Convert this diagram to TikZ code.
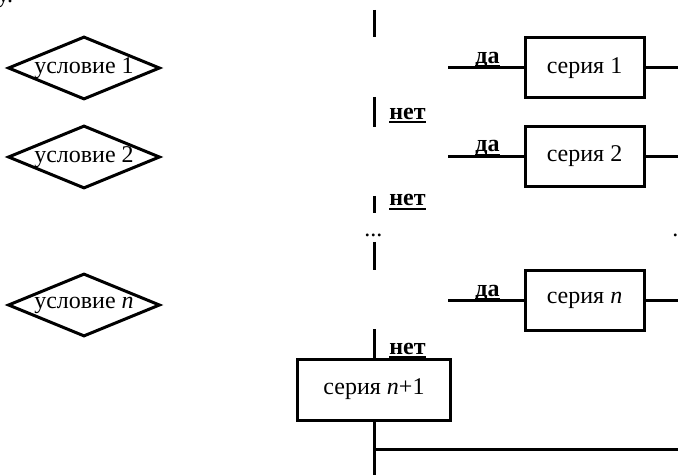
\documentclass[tikz,border=0pt]{standalone}
\usepackage{fontspec}
\setmainfont{Liberation Serif}
\usetikzlibrary{shapes.geometric}
\newcommand\podch[1]{\setbox0\hbox{\bfseries #1}\rlap{\rule[-1.8pt]{\wd0}{1pt}}\box0}
\tikzset{
  usl/.style={draw, shape=diamond, line width=1.5pt, inner sep=0pt, minimum width=76pt, minimum height=31.5pt},
  ser/.style={draw, rectangle, line width=1.5pt, minimum width=59.5pt, minimum height=30pt},
  lin/.style={line width=1.5pt},
  mtk/.style={anchor=base west, inner sep=0pt}
}
\begin{document}
\begin{tikzpicture}[x=0.5pt, y=-0.5pt, font=\fontsize{12}{14}\selectfont]
  \useasboundingbox (0,0) rectangle (678,475);
  \node[mtk] (hvost) at (-3,3) {у.};
  % условия
  \node[usl, label=center:{условие 1}] (u1) at (84,68) {};
  \node[usl, label=center:{условие 2}] (u2) at (84,157) {};
  \node[usl, label=center:{условие \textit{n}}] (un) at (84,305) {};
  % серии с ветками "да"
  \foreach \nm/\y/\txt in {1/68/1, 2/156.5/2, n/300.5/\textit{n}} {
    \node[ser] (s\nm) at (584.5,\y) {серия \txt};
    \coordinate (d\nm) at (448,\y);
    \coordinate (r\nm) at (680,\y);
    \draw[lin] (d\nm) -- (s\nm);
    \draw[lin] (s\nm) -- (r\nm);
    \node[mtk] (da\nm) at (475,\y-4.5) {\podch{да}};
  }
  % ветки "нет"
  \foreach \a/\b [count=\i] in {10/37, 97/127, 196/213, 242/270} {
    \coordinate (va\i) at (374,\a);
    \coordinate (vb\i) at (374,\b);
    \draw[lin] (va\i) -- (vb\i);
  }
  \node[mtk] (net1) at (389,119.5) {\podch{нет}};
  \node[mtk] (net2) at (389,206) {\podch{нет}};
  \node[mtk] (net3) at (389,354) {\podch{нет}};
  \node[mtk] (tchk1) at (364,237) {...};
  \node[mtk] (tchk2) at (672,237) {.};
  % серия n+1
  \node[ser, minimum width=76.5pt, minimum height=30.5pt] (sn1) at (374,389.5) {серия \textit{n}+1};
  \coordinate (v5) at (374,329);
  \draw[lin] (v5) -- (sn1);
  \coordinate (niz) at (374,475);
  \draw[lin] (sn1) -- (niz);
  \coordinate (uzel) at (374,449);
  \coordinate (prav) at (680,449);
  \draw[lin] (uzel) -- (prav);
\end{tikzpicture}
\end{document}
